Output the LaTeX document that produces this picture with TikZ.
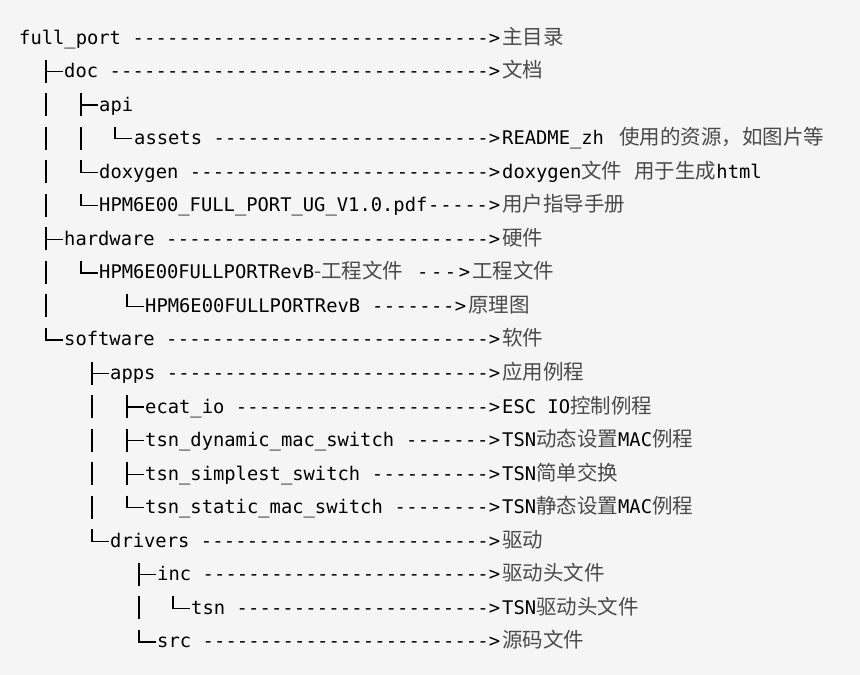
\documentclass[tikz,border=0pt]{standalone}
\usepackage{fontspec}
\setmonofont{DejaVu Sans Mono}
\newfontfamily\cjk{Noto Sans CJK SC}
\definecolor{bgc}{HTML}{F5F5F5}
\definecolor{txc}{HTML}{000000}
\definecolor{cnc}{HTML}{4A4A4A}
\newcommand\cn[1]{{\cjk\color{cnc}\fontsize{20.5}{21}\selectfont #1}}
\newcommand\rowy[1]{38+33.55*#1}
% \trow{name}{x}{row}{endx}{label}{desc}
\newcommand\trow[6]{%
  \node[lbl] (#1) at (#2,{\rowy{#3}+6}) {\makebox[\dimexpr #4pt-#2pt\relax][l]{#5\xleaders\hbox{-}\hfill>}};
  \node[lbl] (#1d) at (#4+2,{\rowy{#3}+6}) {#6};}
\newcommand\tteeg[2]{\draw[tree] (#1,{\rowy{#2}-12}) -- (#1,{\rowy{#2}+11}) (#1,{\rowy{#2}}) -- (#1+17,{\rowy{#2}});}
\newcommand\tellg[2]{\draw[tree] (#1,{\rowy{#2}-12}) -- (#1,{\rowy{#2}}) -- (#1+17,{\rowy{#2}});}
\newcommand\tbarg[2]{\draw[tree] (#1,{\rowy{#2}-12}) -- (#1,{\rowy{#2}+11});}
\begin{document}
\begin{tikzpicture}[x=1pt,y=-1pt,
  lbl/.style={anchor=base west,inner sep=0pt,text=txc,font=\ttfamily\fontsize{18.8}{20}\selectfont},
  tree/.style={draw=txc,line width=1.3pt}]
\fill[bgc] (0,0) rectangle (860,675);
\useasboundingbox (0,0) rectangle (860,675);
\trow{r0}{19}{0}{500}{full\_port }{\cn{主目录}}
\tteeg{46}{1}\trow{r1}{64}{1}{500}{doc }{\cn{文档}}
\tbarg{46}{2}\tteeg{81}{2}
\node[lbl] (r2) at (99,{\rowy{2}+6}) {api};
\tbarg{46}{3}\tbarg{81}{3}\tellg{115}{3}
\trow{r3}{134}{3}{500}{assets }{README\_zh\hspace{15pt}\cn{使用的资源，如图片等}}
\tbarg{46}{4}\tellg{81}{4}
\trow{r4}{99}{4}{500}{doxygen }{doxygen\cn{文件\hspace{12pt}用于生成}html}
\tbarg{46}{5}\tellg{81}{5}
\trow{r5}{99}{5}{500}{HPM6E00\_FULL\_PORT\_UG\_V1.0.pdf}{\cn{用户指导手册}}
\tteeg{46}{6}\trow{r6}{64}{6}{500}{hardware }{\cn{硬件}}
\tbarg{46}{7}\tellg{81}{7}
\trow{r7}{99}{7}{470}{HPM6E00FULLPORTRevB\cn{-工程文件} }{\cn{工程文件}}
\tbarg{46}{8}\tellg{127}{8}
\trow{r8}{145}{8}{466}{HPM6E00FULLPORTRevB }{\cn{原理图}}
\tellg{46}{9}\trow{r9}{64}{9}{500}{software }{\cn{软件}}
\tteeg{92}{10}\trow{r10}{110}{10}{500}{apps }{\cn{应用例程}}
\tbarg{92}{11}\tteeg{127}{11}\trow{r11}{145}{11}{500}{ecat\_io }{ESC IO\cn{控制例程}}
\tbarg{92}{12}\tteeg{127}{12}\trow{r12}{145}{12}{500}{tsn\_dynamic\_mac\_switch }{TSN\cn{动态设置}MAC\cn{例程}}
\tbarg{92}{13}\tteeg{127}{13}\trow{r13}{145}{13}{500}{tsn\_simplest\_switch }{TSN\cn{简单交换}}
\tbarg{92}{14}\tellg{127}{14}\trow{r14}{145}{14}{500}{tsn\_static\_mac\_switch }{TSN\cn{静态设置}MAC\cn{例程}}
\tellg{92}{15}\trow{r15}{110}{15}{500}{drivers }{\cn{驱动}}
\tteeg{139}{16}\trow{r16}{157}{16}{500}{inc }{\cn{驱动头文件}}
\tbarg{139}{17}\tellg{173}{17}\trow{r17}{191}{17}{500}{tsn }{TSN\cn{驱动头文件}}
\tellg{139}{18}\trow{r18}{157}{18}{500}{src }{\cn{源码文件}}
\end{tikzpicture}
\end{document}
